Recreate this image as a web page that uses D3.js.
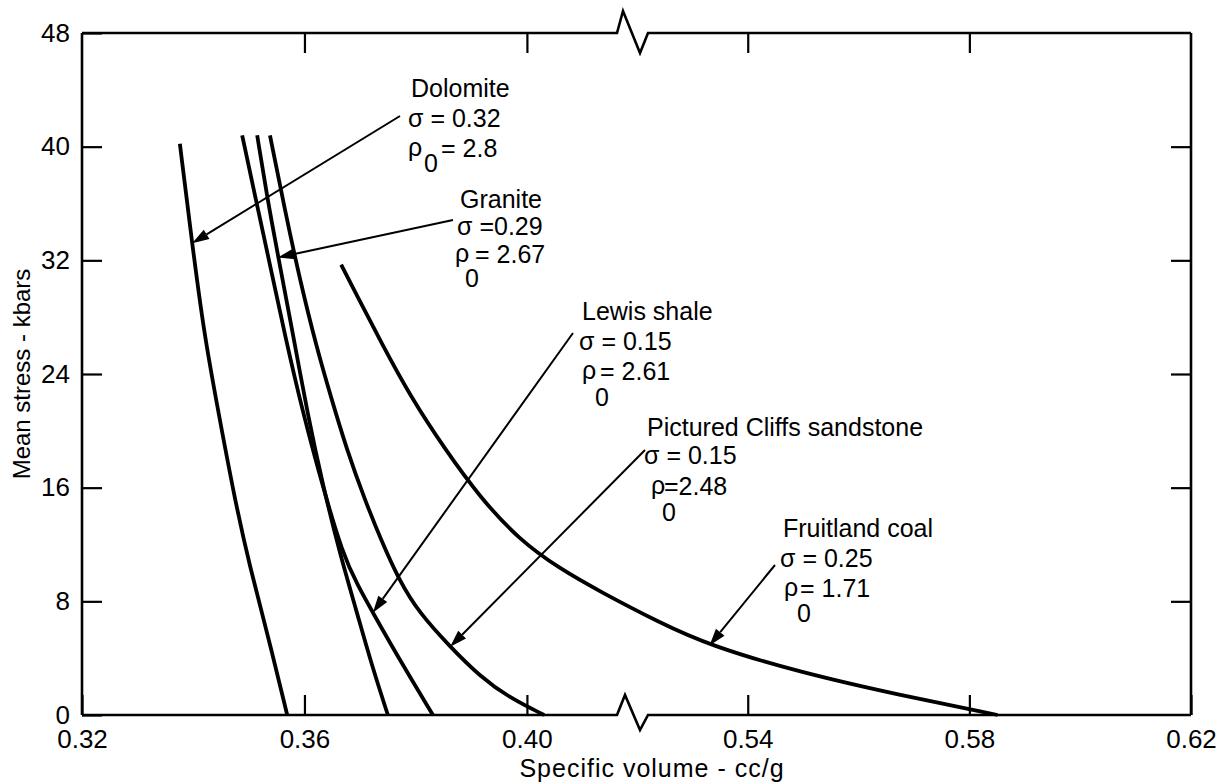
<!DOCTYPE html>
<html><head><meta charset="utf-8">
<script src="https://cdn.jsdelivr.net/npm/d3@7"></script>
<style>html,body{margin:0;background:#fff;} svg{display:block;font-family:"Liberation Sans",Arial,sans-serif;}</style>
</head><body><svg id="c" width="1230" height="783"></svg>
<script>
// ---------- data ----------
const xTickValues = [0.32, 0.36, 0.40, 0.54, 0.58, 0.62];
const xTickLabels = ["0.32", "0.36", "0.40", "0.54", "0.58", "0.62"];
const yTickValues = [0, 8, 16, 24, 32, 40, 48];
const axisBreak = [0.4162, 0.522];   // x-axis is broken between these values

const materials = ["Dolomite", "Granite", "Lewis shale", "Pictured Cliffs sandstone", "Fruitland coal"];
const sigmaTexts = ["\u03c3 = 0.32", "\u03c3 =0.29", "\u03c3 = 0.15", "\u03c3 = 0.15", "\u03c3 = 0.25"];
const densityTexts = ["= 2.8", "=  2.67", "= 2.61", "=2.48", "= 1.71"];

const dolomiteVolume = [0.3376, 0.3398, 0.3419, 0.3441, 0.3475, 0.3502, 0.3533, 0.3569];
const dolomiteStress = [40.2, 33.2, 27.0, 22.2, 15.1, 10.4, 5.8, 0];

const graniteVolume = [0.3515, 0.3534, 0.3554, 0.3578, 0.3606, 0.3633, 0.3664, 0.3693, 0.3721, 0.3750];
const graniteStress = [40.8, 36.2, 32.0, 27.1, 21.1, 16.2, 11.3, 7.4, 3.5, 0];

const lewisVolume = [0.3488, 0.3513, 0.3538, 0.3565, 0.3597, 0.3632, 0.3669, 0.3696, 0.3723, 0.3777, 0.3831];
const lewisStress = [40.8, 36.2, 31.7, 26.7, 21.3, 16.2, 11.3, 9.1, 7.2, 3.5, 0];

const picturedVolume = [0.3538, 0.3565, 0.3592, 0.3621, 0.3649, 0.3676, 0.3709, 0.3738, 0.3770, 0.3806, 0.3862, 0.3916, 0.3969, 0.4031];
const picturedStress = [40.8, 35.5, 30.6, 26.0, 22.2, 18.7, 15.1, 12.3, 9.5, 7.2, 4.8, 2.7, 1.2, 0];

const coalVolume = [0.3666, 0.3696, 0.3741, 0.3791, 0.3851, 0.3916, 0.3987, 0.4059, 0.4131, 0.5241, 0.5331, 0.5494, 0.5674, 0.5851];
const coalStress = [31.7, 29.4, 26.0, 22.4, 18.8, 15.3, 12.3, 10.3, 8.7, 6.5, 4.9, 3.0, 1.4, 0];

// arrow tips (data units) on each curve
const arrowTipVolume = [0.3398, 0.3552, 0.3723, 0.3862, 0.5331];
const arrowTipStress = [33.2, 32.2, 7.2, 4.8, 4.9];

// ---------- layout ----------
const svg = d3.select("#c");
const x = d3.scaleLinear().domain([0.32, axisBreak[0], axisBreak[1], 0.62]).range([82, 617, 648, 1191]);
const y = d3.scaleLinear().domain([0, 48]).range([715, 33]);
const X0 = x(0.32), X1 = x(0.62), Y0 = y(0), YT = y(48);
const bx0 = x(axisBreak[0]), bx1 = x(axisBreak[1]);

// frame
const frame = svg.append("g").attr("fill", "none").attr("stroke", "#000").attr("stroke-width", 2.6).attr("stroke-linejoin", "miter");
frame.append("path").attr("d", `M${X0},${Y0}L${X0},${YT}`);
frame.append("path").attr("d", `M${X1},${Y0}L${X1},${YT}`);
frame.append("path").attr("d", `M${X0},${Y0}L${bx0},${Y0}L${bx0+8},${Y0-20}L${bx1-8},${Y0+15}L${bx1},${Y0}L${X1},${Y0}`);
frame.append("path").attr("d", `M${X0},${YT}L${bx0},${YT}L${bx0+6},${YT-22}L${bx1-8},${YT+20}L${bx1},${YT}L${X1},${YT}`);

function styleAxis(g) {
  g.select(".domain").remove();
  g.selectAll(".tick line").attr("stroke", "#000").attr("stroke-width", 2.2);
  g.selectAll(".tick text").attr("fill", "#000").attr("font-size", 26);
  g.attr("font-family", null);
}
svg.append("g").attr("transform", `translate(0,${Y0})`)
  .call(d3.axisBottom(x).tickValues(xTickValues).tickFormat((d, i) => xTickLabels[i]).tickSize(-20).tickPadding(15))
  .call(styleAxis);
svg.append("g").attr("transform", `translate(0,${YT})`)
  .call(d3.axisTop(x).tickValues(xTickValues.slice(1, -1)).tickFormat("").tickSize(-20))
  .call(styleAxis);
svg.append("g").attr("transform", `translate(${X0},0)`)
  .call(d3.axisLeft(y).tickValues(yTickValues).tickSize(-20).tickPadding(12))
  .call(styleAxis);
svg.append("g").attr("transform", `translate(${X1},0)`)
  .call(d3.axisRight(y).tickValues(yTickValues.slice(1, -1)).tickFormat("").tickSize(-20))
  .call(styleAxis);

// axis titles
svg.append("text").attr("x", 652).attr("y", 777).attr("text-anchor", "middle").attr("font-size", 25)
  .attr("letter-spacing", 1).text("Specific volume - cc/g");
svg.append("text").attr("transform", `translate(30,${(Y0+YT)/2}) rotate(-90)`).attr("text-anchor", "middle").attr("font-size", 24).text("Mean stress - kbars");

// curves
const series = [
  [dolomiteVolume, dolomiteStress],
  [graniteVolume, graniteStress],
  [lewisVolume, lewisStress],
  [picturedVolume, picturedStress],
  [coalVolume, coalStress]
];
const line = d3.line().x(d => x(d[0])).y(d => y(d[1])).curve(d3.curveBasis);
svg.append("g").selectAll("path").data(series).join("path")
  .attr("d", s => line(s[0].map((v, i) => [v, s[1][i]])))
  .attr("fill", "none").attr("stroke", "#000").attr("stroke-width", 3.8).attr("stroke-linecap", "butt");

// annotation layout
const annot = [
  {lx: 411, nb: 97,  sb: 127, rb: 157, rhoX: 408, subX: 424, subDy: 15, eqX: 441, tx: 400, ty: 116},
  {lx: 460, nb: 208, sb: 235, rb: 263, rhoX: 455, subX: 465, subDy: 24, eqX: 475, tx: 453, ty: 220},
  {lx: 582, nb: 320, sb: 350, rb: 380, rhoX: 582, subX: 595, subDy: 26, eqX: 600, tx: 573, ty: 333},
  {lx: 647, nb: 436, sb: 464, rb: 495, rhoX: 651, subX: 662, subDy: 26, eqX: 664, tx: 645, ty: 450},
  {lx: 783, nb: 537, sb: 567, rb: 597, rhoX: 784, subX: 797, subDy: 25, eqX: 800, tx: 775, ty: 565}
];
const ag = svg.append("g").attr("font-size", 25).attr("fill", "#000");
annot.forEach((a, i) => {
  ag.append("text").attr("x", a.lx).attr("y", a.nb).text(materials[i]);
  ag.append("text").attr("x", a.lx - 3).attr("y", a.sb).text(sigmaTexts[i]);
  const t = ag.append("text");
  t.append("tspan").attr("x", a.rhoX).attr("y", a.rb - 1).text("\u03c1");
  t.append("tspan").attr("x", a.subX).attr("y", a.rb + a.subDy).text("0");
  t.append("tspan").attr("x", a.eqX).attr("y", a.rb).text(densityTexts[i]);
  // arrow
  const hx = x(arrowTipVolume[i]), hy = y(arrowTipStress[i]);
  const ang = Math.atan2(hy - a.ty, hx - a.tx);
  const L = 17, W = 5.5;
  const bxp = hx - L * Math.cos(ang), byp = hy - L * Math.sin(ang);
  svg.append("line").attr("x1", a.tx).attr("y1", a.ty).attr("x2", bxp).attr("y2", byp)
    .attr("stroke", "#000").attr("stroke-width", 2);
  svg.append("path").attr("d", `M${hx},${hy}L${bxp + W*Math.sin(ang)},${byp - W*Math.cos(ang)}L${bxp - W*Math.sin(ang)},${byp + W*Math.cos(ang)}Z`)
    .attr("fill", "#000");
});
</script></body></html>
